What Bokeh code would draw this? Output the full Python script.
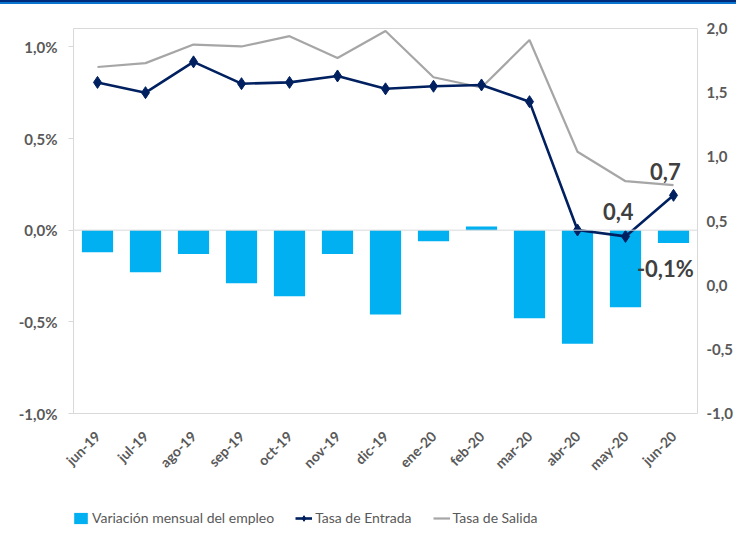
import math
from bokeh.plotting import figure
from bokeh.layouts import column
from bokeh.models import (Range1d, LinearAxis, FixedTicker, Legend, LegendItem,
                          ColumnDataSource, Span, Label, FactorRange, Div)
from bokeh.embed import file_html
from bokeh.resources import INLINE

months = ["jun-19", "jul-19", "ago-19", "sep-19", "oct-19", "nov-19", "dic-19",
          "ene-20", "feb-20", "mar-20", "abr-20", "may-20", "jun-20"]
variacion = [-0.12, -0.23, -0.13, -0.29, -0.36, -0.13, -0.46,
             -0.06, 0.02, -0.48, -0.62, -0.42, -0.07]
entrada = [1.58, 1.50, 1.74, 1.57, 1.58, 1.63, 1.53,
           1.55, 1.56, 1.43, 0.43, 0.38, 0.70]
salida = [1.70, 1.73, 1.875, 1.86, 1.94, 1.77, 1.98,
          1.62, 1.54, 1.91, 1.04, 0.81, 0.78]

left_ticks = [-1.0, -0.5, 0.0, 0.5, 1.0]
left_tick_labels = ["-1,0%", "-0,5%", "0,0%", "0,5%", "1,0%"]
right_ticks = [-1.0, -0.5, 0.0, 0.5, 1.0, 1.5, 2.0]
right_tick_labels = ["-1,0", "-0,5", "0,0", "0,5", "1,0", "1,5", "2,0"]

annot_texts = ["0,4", "0,7", "-0,1%"]
legend_labels = ["Variación mensual del empleo", "Tasa de Entrada", "Tasa de Salida"]

FONT = "Lato"
GRAY = "#595959"
BAR_C = "#00B0F0"
ENT_C = "#002060"
SAL_C = "#A6A6A6"


def bare(fig):
    fig.xaxis.visible = False
    fig.yaxis.visible = False
    fig.xgrid.visible = False
    fig.ygrid.visible = False
    fig.outline_line_color = None


# top banner strip
top = Div(text="", width=736, height=4, margin=0,
          styles={"background": "linear-gradient(#002a7a 0 50%, #0a74d0 50% 100%)",
                  "width": "736px", "height": "4px"})

src = ColumnDataSource(dict(m=months, v=variacion, e=entrada, s=salida))

p = figure(frame_width=624, frame_height=385, x_range=FactorRange(*months),
           y_range=Range1d(-1.0, 1.1), output_backend="svg",
           toolbar_location=None, min_border_left=73, min_border_right=39,
           min_border_top=24, min_border_bottom=87)
p.extra_y_ranges = {"r": Range1d(-1.0, 2.0)}

p.outline_line_color = "#d9d9d9"
p.outline_line_width = 1
p.xgrid.visible = False
p.ygrid.visible = False

p.vbar(x="m", top="v", bottom=0, width=0.65, source=src,
       fill_color=BAR_C, line_color=None)
p.add_layout(Span(location=0, dimension="width", line_color="#d9d9d9", line_width=1))

p.line(x="m", y="s", source=src, y_range_name="r", line_color=SAL_C, line_width=2.2)
p.line(x="m", y="e", source=src, y_range_name="r", line_color=ENT_C, line_width=2.6)
p.scatter(x="m", y="e", source=src, y_range_name="r", marker="diamond",
          size=12, fill_color=ENT_C, line_color=ENT_C)

# left axis
ax = p.yaxis[0]
ax.ticker = FixedTicker(ticks=left_ticks)
ax.major_label_overrides = dict(zip(left_ticks, left_tick_labels))
ax.axis_line_color = None
ax.major_tick_line_color = "#d9d9d9"
ax.major_tick_out = 5
ax.major_tick_in = 0
ax.minor_tick_line_color = None
ax.major_label_standoff = 11
ax.major_label_text_font = FONT
ax.major_label_text_font_style = "bold"
ax.major_label_text_font_size = "15px"
ax.major_label_text_color = GRAY

# right axis
rax = LinearAxis(y_range_name="r", ticker=FixedTicker(ticks=right_ticks))
rax.major_label_overrides = dict(zip(right_ticks, right_tick_labels))
rax.axis_line_color = None
rax.major_tick_line_color = None
rax.major_tick_out = 0
rax.major_tick_in = 0
rax.minor_tick_line_color = None
rax.major_label_standoff = 9
rax.major_label_text_font = FONT
rax.major_label_text_font_style = "bold"
rax.major_label_text_font_size = "15px"
rax.major_label_text_color = GRAY
p.add_layout(rax, "right")

# x axis
xa = p.xaxis[0]
xa.axis_line_color = None
xa.major_tick_line_color = None
xa.major_tick_out = 0
xa.major_tick_in = 0
xa.minor_tick_line_color = None
xa.major_label_orientation = math.pi / 4
xa.major_label_standoff = 20
xa.major_label_text_font = FONT
xa.major_label_text_font_style = "bold"
xa.major_label_text_font_size = "14px"
xa.major_label_text_color = GRAY

# annotations
lab_style = dict(text_font=FONT, text_font_size="22px", text_font_style="bold",
                 text_color="#404040", text_align="center", text_baseline="middle")
p.add_layout(Label(x=11.35, y=entrada[11], y_range_name="r", y_offset=25,
                   text=annot_texts[0], **lab_style))
p.add_layout(Label(x=12.33, y=entrada[12], y_range_name="r", y_offset=24,
                   text=annot_texts[1], **lab_style))
p.add_layout(Label(x=12.33, y=variacion[12], y_offset=-25,
                   text=annot_texts[2], **lab_style))

# legend strip (separate figure under the chart)
q = figure(width=736, height=36, x_range=Range1d(0, 1), y_range=Range1d(0, 1),
           output_backend="svg", toolbar_location=None,
           min_border=0, min_border_left=0, min_border_right=0,
           min_border_top=0, min_border_bottom=0)
bare(q)
nan = float("nan")
off = ColumnDataSource(dict(x=[nan], y=[nan], t=[nan]))
r_bar = q.vbar(x="x", top="t", width=0.1, source=off, fill_color=BAR_C, line_color=None)
r_ent = q.line(x="x", y="y", source=off, line_color=ENT_C, line_width=2.6)
r_entm = q.scatter(x="x", y="y", source=off, marker="diamond", size=11,
                   fill_color=ENT_C, line_color=ENT_C)
r_sal = q.line(x="x", y="y", source=off, line_color=SAL_C, line_width=2.2)

legend = Legend(items=[
    LegendItem(label=legend_labels[0], renderers=[r_bar]),
    LegendItem(label=legend_labels[1], renderers=[r_ent, r_entm]),
    LegendItem(label=legend_labels[2], renderers=[r_sal]),
], orientation="horizontal", location=(-1, 10), border_line_color=None,
   background_fill_alpha=0, label_text_font=FONT, label_text_font_size="14px",
   label_text_color=GRAY, glyph_width=17, glyph_height=14, label_standoff=3,
   spacing=21, padding=0, margin=0)
q.add_layout(legend, "center")

layout = column(top, p, q, spacing=0)
out = file_html(layout, INLINE)
open("out.html", "w").write(out)
